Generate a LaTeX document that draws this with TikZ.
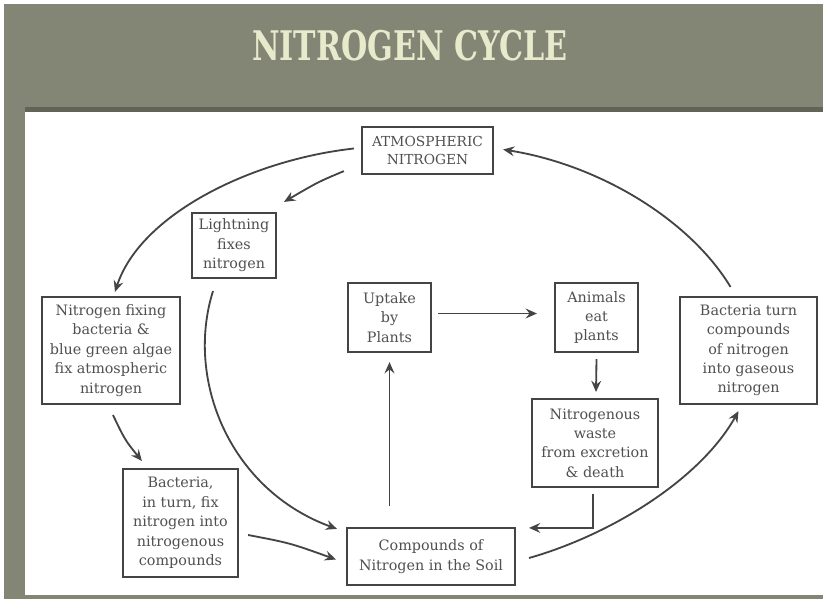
\documentclass[tikz,border=0pt]{standalone}
\usepackage{fontspec}
\setmainfont{DejaVu Serif}
\usetikzlibrary{arrows.meta,calc,positioning}
\definecolor{bandgray}{RGB}{131,134,117}
\definecolor{titlecream}{RGB}{232,234,204}
\definecolor{inkgray}{RGB}{68,68,68}
\definecolor{textgray}{RGB}{80,80,80}

\begin{document}
\begin{tikzpicture}
	[
	x=0.025cm, y=-0.025cm,
	> = {Stealth[length=8pt,width=7pt,inset=2.8pt]},
	box/.style = {draw=inkgray, line width=1.4pt, align=center, text=textgray, inner sep=1pt,
		font=\fontsize{10.2}{13.8}\selectfont},
	flow/.style = {->, draw=inkgray, line width=1.3pt}
	]
	% frame
	\fill[bandgray] (0,0) rectangle (823,599);
	\fill[white] (0,0) rectangle (823,4);
	\fill[white] (0,0) rectangle (4,599);
	\fill[bandgray!75!black] (25,107) rectangle (823,112);
	\fill[white] (25,112) rectangle (823,595);
	\useasboundingbox (0,0) rectangle (823,599);

	\node[text=titlecream, xscale=0.74, font=\bfseries\fontsize{29}{29}\selectfont] (title) at (410,46) {NITROGEN CYCLE};

	% boxes
	\node[box, minimum width=3.28cm, minimum height=1.18cm, font=\fontsize{9.8}{13}\selectfont] (atmo) at (427.5,150.5) {ATMOSPHERIC\\NITROGEN};
	\node[box, minimum width=2.1cm, minimum height=1.63cm] (light) at (234,245.5) {Lightning\\fixes\\nitrogen};
	\node[box, minimum width=3.45cm, minimum height=2.68cm] (fixing) at (111,350.5) {Nitrogen fixing\\bacteria \&\\blue green algae\\fix atmospheric\\nitrogen};
	\node[box, minimum width=2.88cm, minimum height=2.7cm] (inturn) at (180.5,523) {Bacteria,\\in turn, fix\\nitrogen into\\nitrogenous\\compounds};
	\node[box, minimum width=4.2cm, minimum height=1.43cm] (soil) at (431,556.5) {Compounds of\\Nitrogen in the Soil};
	\node[box, minimum width=2.08cm, minimum height=1.73cm] (uptake) at (389.5,317.5) {Uptake\\by\\Plants};
	\node[box, minimum width=2.08cm, minimum height=1.73cm] (animals) at (596.5,317.5) {Animals\\eat\\plants};
	\node[box, minimum width=3.15cm, minimum height=2.2cm] (waste) at (595,443) {Nitrogenous\\waste\\from excretion\\\& death};
	\node[box, minimum width=3.43cm, minimum height=2.68cm] (turn) at (748.5,350.5) {Bacteria turn\\compounds\\of nitrogen\\into gaseous\\nitrogen};

	% arrows
	\draw[flow] ($(atmo.west)+(-7,-2)$) .. controls (250,160) and (140,215) .. ($(fixing.north)+(4,-4)$);
	\draw[flow] ($(atmo.south west)+(-17,-4)$) .. controls (318,182) .. ($(light.north east)+(7,-10)$);
	\draw[flow] ($(light.south)+(-21,12)$) .. controls (185,380) and (230,490) .. ($(soil.north west)+(-9,2)$);
	\draw[flow] ($(fixing.south)+(2,10)$) .. controls (125,440) .. ($(inturn.north west)+(20,-7)$);
	\draw[flow] ($(inturn.east)+(9,12)$) .. controls (290,543) .. ($(soil.west)+(-10,3)$);
	\draw[flow] ($(uptake.south |- soil.north)+(0,-21)$) -- ($(uptake.south)+(0,9)$);
	\draw[flow] ($(uptake.east)+(6,-4)$) -- ($(animals.west)+(-17,-4)$);
	\draw[flow] ($(animals.south)+(0,6)$) -- ($(waste.north)+(1,-6)$);
	\draw[flow] ($(waste.south)+(-2,6)$) |- ($(soil.north east)+(13,1)$);
	\draw[flow] ($(soil.east)+(13,1.5)$) .. controls (610,535) and (700,480) .. ($(turn.south)+(-10,6)$);
	\draw[flow] ($(turn.north)+(-18,-9)$) .. controls (690,220) and (600,165) .. ($(atmo.east)+(9,-1)$);
\end{tikzpicture}
\end{document}
